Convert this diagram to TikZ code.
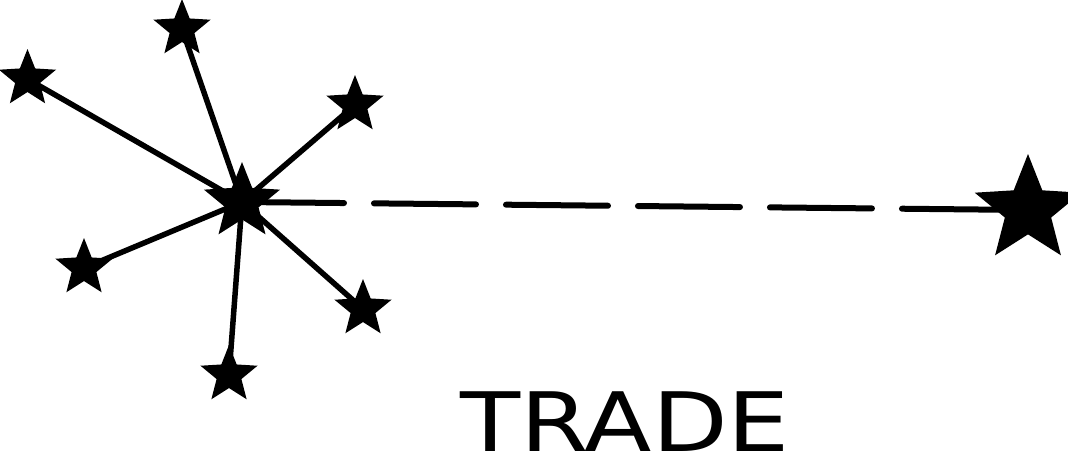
\documentclass[tikz,border=0pt]{standalone}
\usepackage{fontspec}
\usepackage{graphicx}
\usetikzlibrary{shapes.geometric}
\newfontfamily\labelfont{DejaVu Sans}
\tikzset{
  starnode/.style={star, star points=5, star point ratio=2.3, fill=black, draw=none, inner sep=0pt, minimum size=60pt},
  hubstar/.style={starnode, minimum size=80pt},
  bigstar/.style={starnode, minimum size=112pt},
  spoke/.style={line width=5.5pt, line cap=round},
  tradeline/.style={line width=6pt, line cap=round, dash pattern=on 102pt off 30pt},
}
\begin{document}
\begin{tikzpicture}[x=1pt, y=-1pt]
  \useasboundingbox (0,0) rectangle (1068,469);
  \coordinate (c) at (242,202);
  \coordinate (s1) at (182,29);
  \coordinate (s2) at (27.5,79);
  \coordinate (s3) at (355,105);
  \coordinate (s4) at (84,268);
  \coordinate (s5) at (363,309);
  \coordinate (s6) at (229,375);
  \coordinate (b) at (1028,210);
  \draw[tradeline] (c) -- (b);
  \foreach \s in {s1,s2,s3,s4,s5,s6} \draw[spoke] (c) -- (\s);
  \node[hubstar] (hub) at (c) {};
  \node[starnode] (n1) at (s1) {};
  \node[starnode] (n2) at (s2) {};
  \node[starnode] (n3) at (s3) {};
  \node[starnode] (n4) at (s4) {};
  \node[starnode] (n5) at (s5) {};
  \node[starnode] (n6) at (s6) {};
  \node[bigstar] (big) at (b) {};
  \node[anchor=base, inner sep=0pt] (label) at (625,451)
    {\scalebox{1.2}[1]{\labelfont\fontsize{82}{86}\selectfont TRADE}};
\end{tikzpicture}
\end{document}
